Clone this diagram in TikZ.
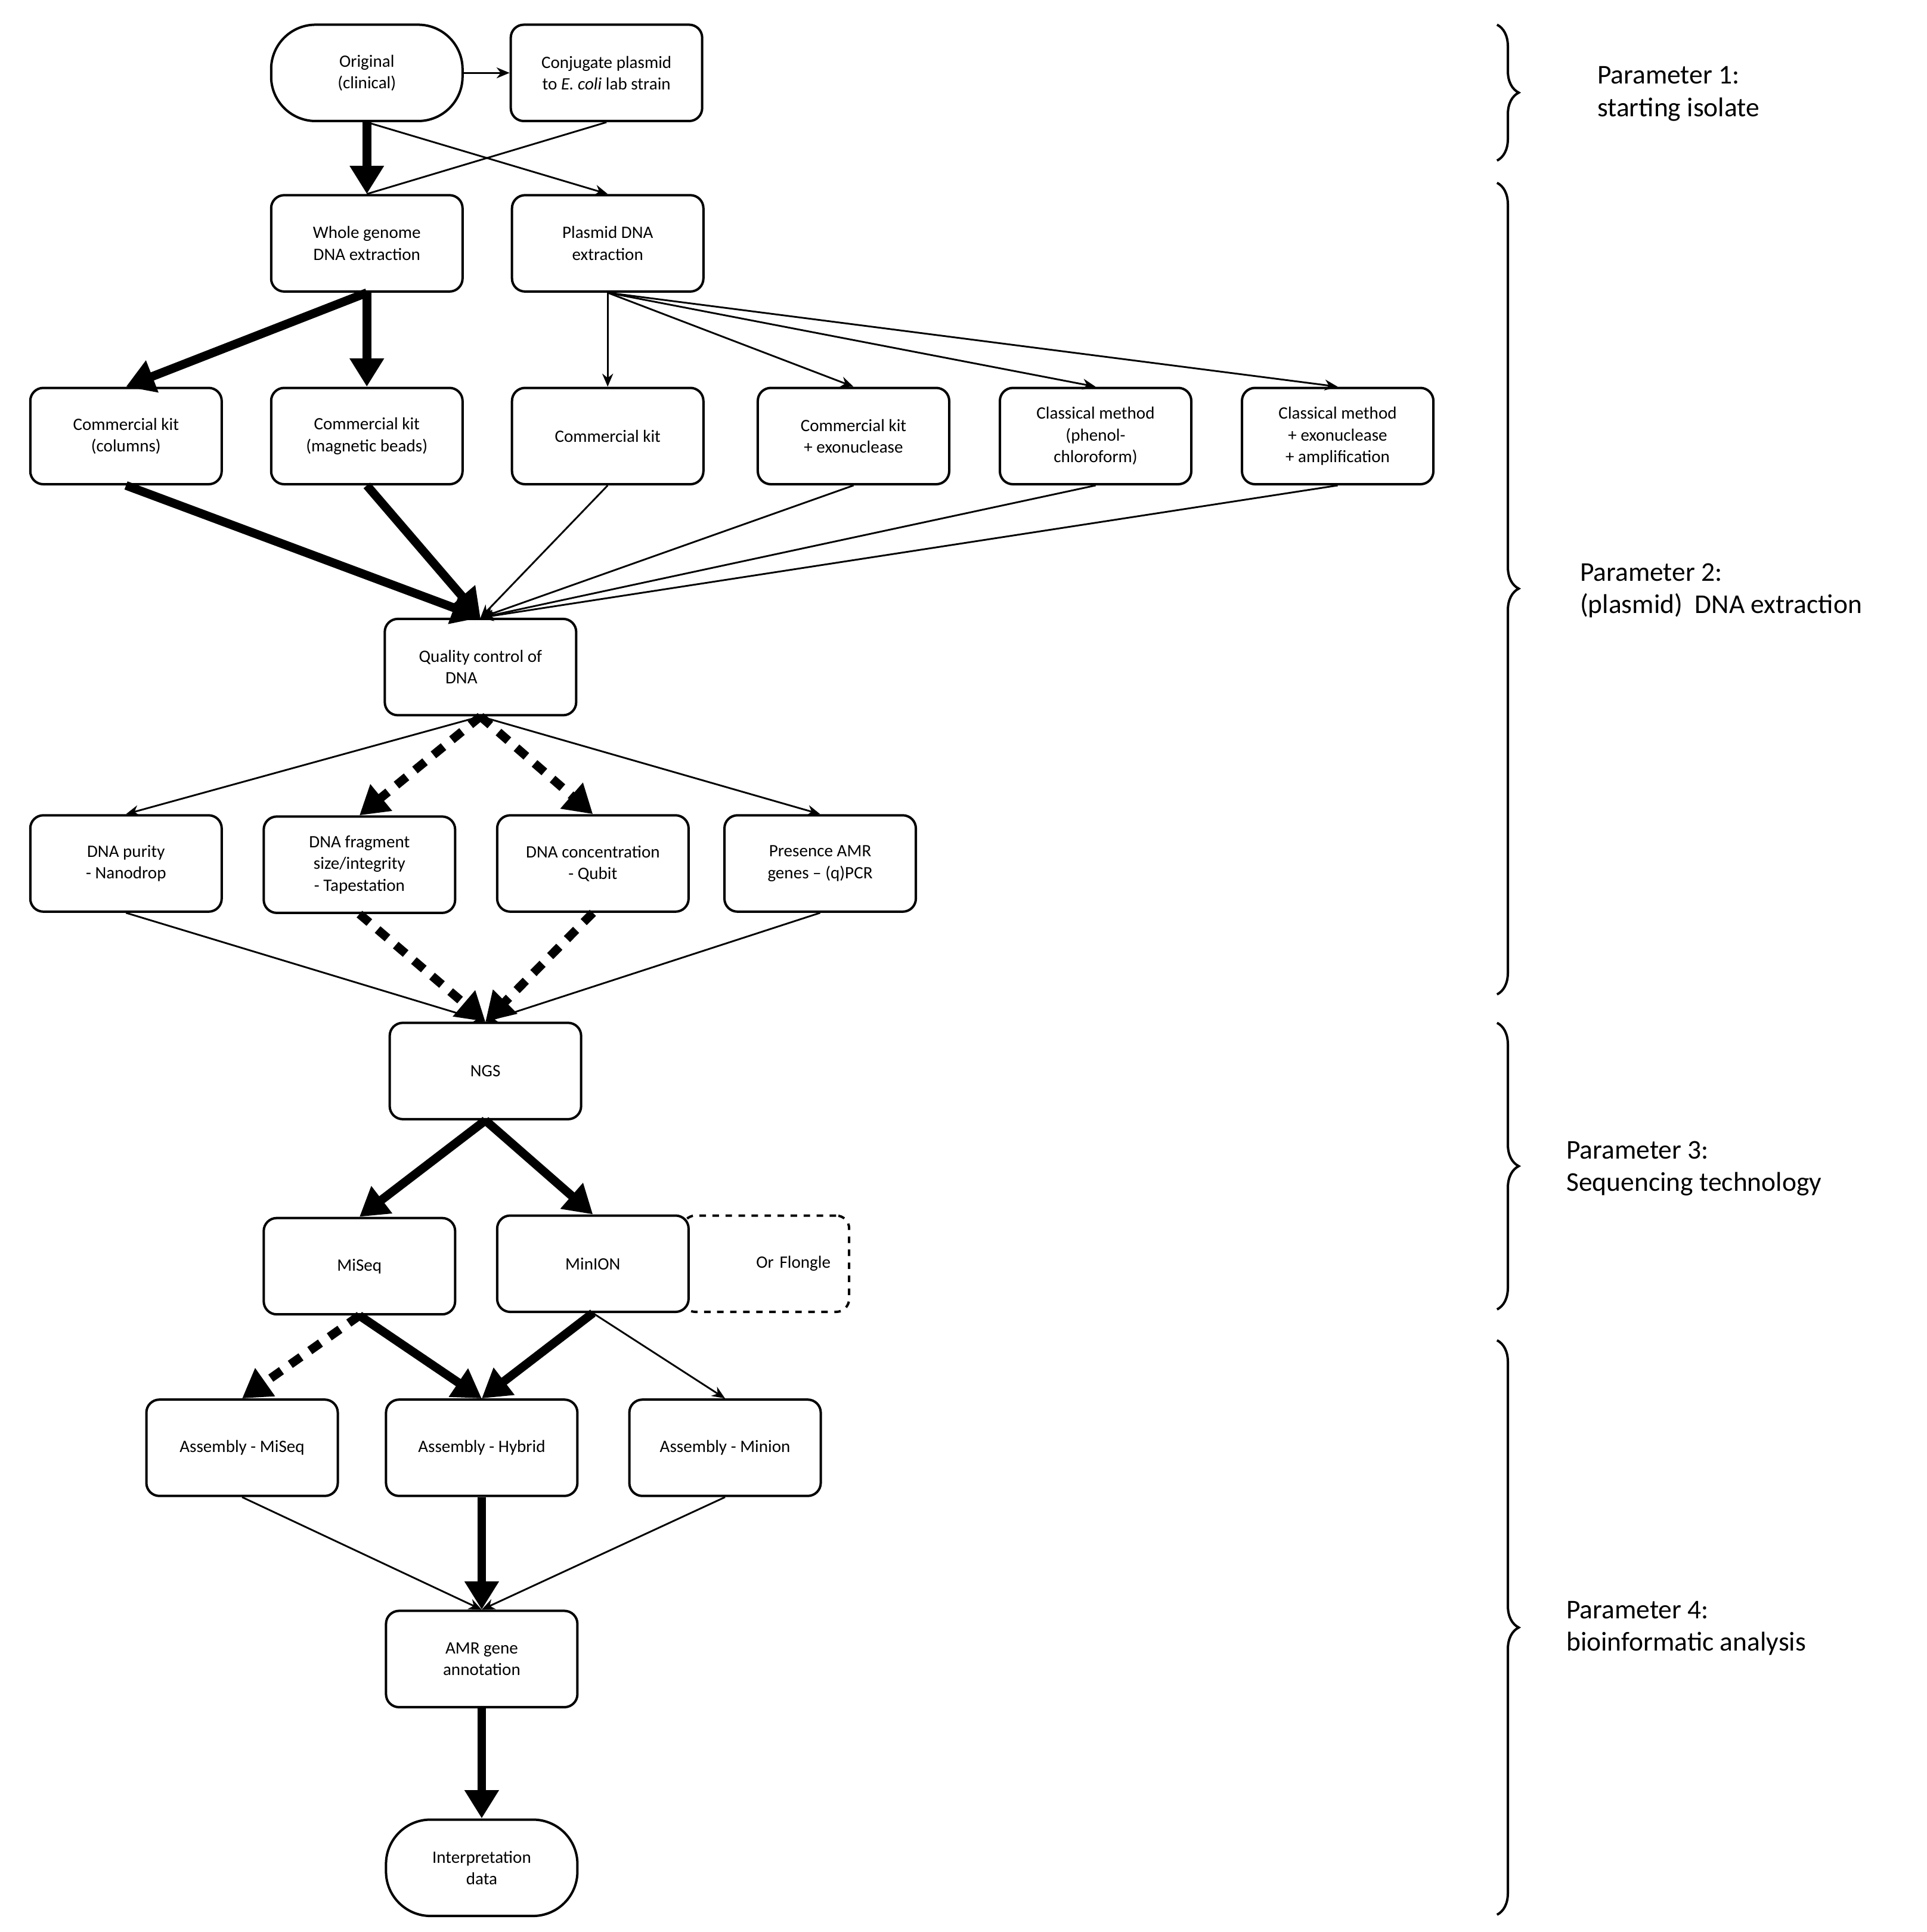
\documentclass[tikz,border=0pt]{standalone}
\usepackage{fontspec}
\setmainfont{Carlito}
\usetikzlibrary{arrows.meta,decorations.pathreplacing}
\tikzset{
  box/.style={draw, rounded corners=6pt, line width=1.1pt, minimum width=3.1cm,
    minimum height=1.56cm, align=center, font=\fontsize{8}{10}\selectfont},
  term/.style={box, rounded corners=0.72cm},
  thin/.style={-{Stealth[length=6pt,width=5pt]}, line width=0.8pt},
  heavy/.style={-{Triangle[length=13pt,width=15pt]}, line width=4pt},
  dots/.style={heavy, dash pattern=on 6pt off 5pt},
  param/.style={anchor=west, align=left, font=\fontsize{12.5}{15}\selectfont},
  brc/.style={decorate, decoration={brace, amplitude=10pt}, line width=1.1pt}
}
\begin{document}
\begin{tikzpicture}[x=0.02cm, y=-0.02cm]
  \useasboundingbox (0,0) rectangle (1560,1564);

  % parameter 1
  \node(orig)[term] at (297,59) {Original\\(clinical)};
  \node(conj)[box] at (491,59) {Conjugate plasmid\\to \textit{E. coli} lab strain};
  % parameter 2
  \node(whole)[box] at (297,197) {Whole genome\\DNA extraction};
  \node(plasmid)[box] at (492,197) {Plasmid DNA\\extraction};
  \node(ckcol)[box] at (102,353) {Commercial kit\\(columns)};
  \node(ckmag)[box] at (297,353) {Commercial kit\\(magnetic beads)};
  \node(ck)[box] at (492,353) {Commercial kit};
  \node(ckexo)[box] at (691,353) {Commercial kit\\+ exonuclease};
  \node(clphe)[box] at (887,353) {Classical method\\(phenol-\\chloroform)};
  \node(clexo)[box] at (1083,353) {Classical method\\+ exonuclease\\+ amplification};
  \node(qc)[box] at (389,540) {Quality control of\\DNA\hspace*{2.2em}};
  \node(purity)[box] at (102,699) {DNA purity\\- Nanodrop};
  \node(frag)[box] at (291,700) {DNA fragment\\size/integrity\\- Tapestation};
  \node(conc)[box] at (480,699) {DNA concentration\\- Qubit};
  \node(amr)[box] at (664,699) {Presence AMR\\genes -- (q)PCR};
  % parameter 3
  \node(ngs)[box] at (393,867) {NGS};
  \node(miseq)[box] at (291,1025) {MiSeq};
  \node(flongle)[box, dashed, minimum width=2.7cm, text width=2.1cm, align=right] at (620,1023) {Or Flongle};
  \node(minion)[box, fill=white] at (480,1023) {MinION};
  % parameter 4
  \node(asmmi)[box] at (196,1172) {Assembly - MiSeq};
  \node(asmhy)[box] at (390,1172) {Assembly - Hybrid};
  \node(asmon)[box] at (587,1172) {Assembly - Minion};
  \node(annot)[box] at (390,1343) {AMR gene\\annotation};
  \node(interp)[term] at (390,1512) {Interpretation\\data};

  \draw[thin] (orig) -- (conj);
  \draw[line width=0.8pt] (conj.south) -- (whole.north);
  \draw[thin] (orig.south) -- (plasmid.north);
  \draw[heavy] (orig.south) -- (whole.north);
  \draw[heavy] (whole.south) -- (ckcol.north);
  \draw[heavy] (whole.south) -- (ckmag.north);
  \foreach \t in {ck,ckexo,clphe,clexo}
    \draw[thin] (plasmid.south) -- (\t.north);
  \draw[heavy] (ckcol.south) -- (qc.north);
  \draw[heavy] (ckmag.south) -- (qc.north);
  \foreach \s in {ck,ckexo,clphe,clexo}
    \draw[thin] (\s.south) -- (qc.north);
  \draw[thin] (qc.south) -- (purity.north);
  \draw[dots] (qc.south) -- (frag.north);
  \draw[dots] (qc.south) -- (conc.north);
  \draw[thin] (qc.south) -- (amr.north);
  \draw[thin] (purity.south) -- (ngs.north);
  \draw[dots] (frag.south) -- (ngs.north);
  \draw[dots] (conc.south) -- (ngs.north);
  \draw[thin] (amr.south) -- (ngs.north);
  \draw[heavy] (ngs.south) -- (miseq.north);
  \draw[heavy] (ngs.south) -- (minion.north);
  \draw[dots] (miseq.south) -- (asmmi.north);
  \draw[heavy] (miseq.south) -- (asmhy.north);
  \draw[heavy] (minion.south) -- (asmhy.north);
  \draw[thin] (minion.south) -- (asmon.north);
  \draw[thin] (asmmi.south) -- (annot.north);
  \draw[heavy] (asmhy.south) -- (annot.north);
  \draw[thin] (asmon.south) -- (annot.north);
  \draw[heavy] (annot.south) -- (interp.north);

  % braces
  \draw[brc] (1212,20) -- (1212,130);
  \draw[brc] (1212,148) -- (1212,805);
  \draw[brc] (1212,828) -- (1212,1060);
  \draw[brc] (1212,1085) -- (1212,1550);
  \node[param] at (1287,76) {Parameter 1:\\starting isolate};
  \node[param] at (1273,478) {Parameter 2:\\(plasmid)~ DNA extraction};
  \node[param] at (1262,946) {Parameter 3:\\Sequencing technology};
  \node[param] at (1262,1318) {Parameter 4:\\bioinformatic analysis};
\end{tikzpicture}
\end{document}
